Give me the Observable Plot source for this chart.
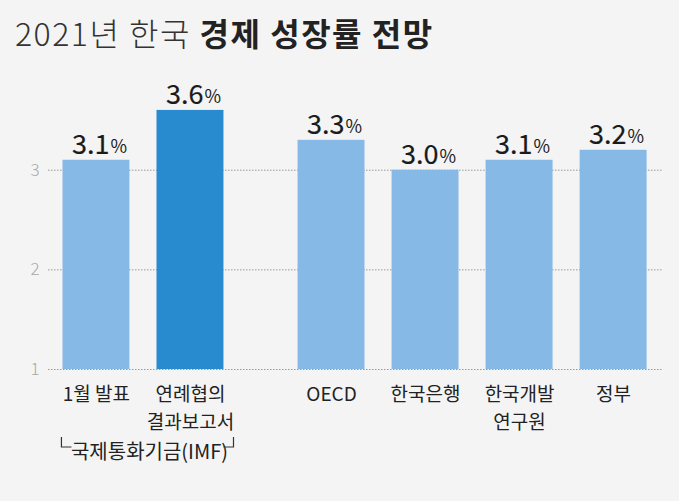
<!DOCTYPE html>
<html>
<head>
<meta charset="utf-8">
<script src="https://cdn.jsdelivr.net/npm/d3@7"></script>
<script src="https://cdn.jsdelivr.net/npm/@observablehq/plot@0.6"></script>
<style>
  html, body { margin: 0; padding: 0; background: #f4f4f4; }
  body { width: 679px; height: 501px; overflow: hidden; position: relative; font-family: "Noto Sans CJK KR", "Noto Sans", sans-serif; }
  #title { position: absolute; left: 15px; top: 9px; font-size: 32px; color: #222; white-space: nowrap; letter-spacing: 1.5px; }
  #title .light { font-weight: 300; color: #333; }
  #title .bold { font-weight: 700; }
  #chart { position: absolute; left: 0; top: 62px; }
</style>
</head>
<body>
<div id="title"><span class="light">2021년 한국</span> <span class="bold">경제 성장률 전망</span></div>
<div id="chart"></div>
<script>
const categories = ["1월 발표", "연례협의\n결과보고서", "OECD", "한국은행", "한국개발\n연구원", "정부"];
const values = [3.1, 3.6, 3.3, 3.0, 3.1, 3.2];
const groups = ["IMF", "IMF", "기타", "기타", "기타", "기타"];
const highlight = [false, true, false, false, false, false];
const yTicks = [1, 2, 3];
const groupLabel = "국제통화기금(IMF)";

const lightBlue = "#86b9e6";
const darkBlue = "#288bcf";
const font = "Noto Sans CJK KR";

// half a step of extra space between the IMF group and the rest
const data = categories.map((c, i) => ({
  label: c,
  value: values[i],
  group: groups[i],
  hi: highlight[i],
  pos: i + (groups[i] === "IMF" ? 0 : 0.5)
}));
const imfPos = d3.mean(data.filter(d => d.group === "IMF"), d => d.pos);
const half = 0.356;

// measure group label width to place the bracket on each side
const groupFontSize = 20;
const groupDx = 6;
const ctx = document.createElement("canvas").getContext("2d");
ctx.font = `${groupFontSize}px "${font}"`;
const groupW = ctx.measureText(groupLabel).width;

// bracket "└ … ┘" drawn with the library's scales
function groupBracket(index, scales) {
  const cx = scales.x(imfPos) + groupDx;
  const y0 = scales.y(1);
  const xl = cx - groupW / 2 - 9;
  const xr = cx + groupW / 2 + 6;
  const g = d3.create("svg:g").attr("fill", "none").attr("stroke", "#333").attr("stroke-width", 1.2);
  g.append("path").attr("d", `M${xl},${y0 + 68}V${y0 + 78}H${xl + 10}`);
  g.append("path").attr("d", `M${xr},${y0 + 68}V${y0 + 78}H${xr - 10}`);
  return g.node();
}

const chart = Plot.plot({
  width: 679,
  height: 439,
  marginLeft: 48,
  marginRight: 17,
  marginTop: 28,
  marginBottom: 132,
  style: { background: "transparent", fontFamily: font },
  x: { domain: [-0.51, 6.02], axis: null },
  y: { domain: [1, 3.8], axis: null },
  marks: [
    Plot.ruleY(yTicks, { stroke: "#9a9a9a", strokeDasharray: "1.5,1.5", strokeWidth: 1 }),
    Plot.axisY(yTicks, { tickSize: 0, tickPadding: 9, fontSize: 17, fill: "#a8a8a8", fontWeight: 300, label: null, tickFormat: d => String(d) }),
    Plot.rectY(data, { x1: d => d.pos - half, x2: d => d.pos + half, y1: 1, y2: "value", fill: d => d.hi ? darkBlue : lightBlue }),
    Plot.text(data, { x: "pos", y: "value", text: d => d.value.toFixed(1), textAnchor: "end", dx: 13, dy: -6, lineAnchor: "bottom", fontSize: 27, fill: "#1a1a1a", stroke: "#1a1a1a", strokeWidth: 0.2, fontWeight: 400 }),
    Plot.text(data, { x: "pos", y: "value", text: () => "%", textAnchor: "start", dx: 14, dy: -7, lineAnchor: "bottom", fontSize: 18, fill: "#1a1a1a" }),
    Plot.text(data, { x: "pos", y: 1, text: "label", lineAnchor: "top", dy: 11, fontSize: 19, lineHeight: 1.5, fill: "#222" }),
    Plot.text([groupLabel], { x: () => imfPos, y: () => 1, text: d => d, lineAnchor: "middle", dx: groupDx, dy: 83, fontSize: groupFontSize, fill: "#222" }),
    groupBracket
  ]
});
document.getElementById("chart").appendChild(chart);
</script>
</body>
</html>
